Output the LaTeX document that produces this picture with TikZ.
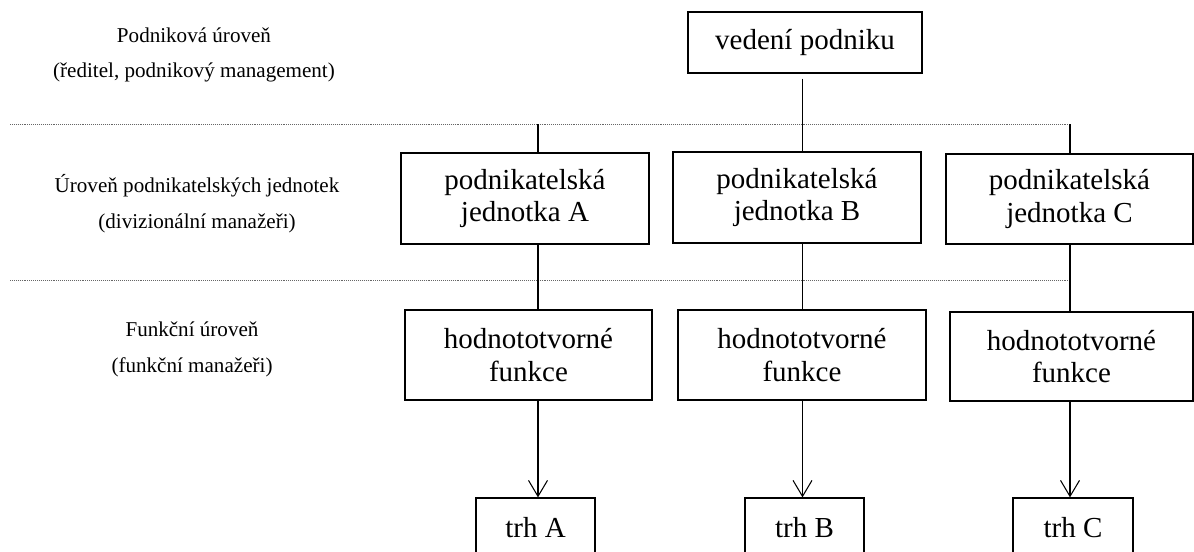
\documentclass[tikz,border=0pt]{standalone}
\usepackage{fontspec}
\setmainfont{Liberation Serif}
\usepackage{tikz}
\usetikzlibrary{arrows.meta,positioning}

\begin{document}
\begin{tikzpicture}[
  x=1cm, y=1cm, font=\fontsize{16.5}{18.7}\selectfont,
  box/.style={draw=black, line width=0.7pt, align=center, inner sep=2pt},
  level/.style={font=\fontsize{12}{20.4}\selectfont, align=center},
  link/.style={line width=0.6pt},
  sep/.style={line width=0.5pt, color=black!60, dash pattern=on 0.5pt off 0.6pt},
  arr/.style={-{Straight Barb[length=3.2mm, width=3.8mm]}, line width=0.6pt}
]
\useasboundingbox (0, 0) rectangle (23.88, -11.02);

% Columns of the three units
\coordinate (colA) at (10.76, 0);
\coordinate (colB) at (16.05, 0);
\coordinate (colC) at (21.40, 0);

% Level labels
\node[level] (lvlTop) at (3.88, -1.10) {Podniková úroveň\\(ředitel, podnikový management)};
\node[level] (lvlUnit) at (3.94, -4.07) {Úroveň podnikatelských jednotek\\(divizionální manažeři)};
\node[level] (lvlFunc) at (3.84, -6.98) {Funkční úroveň\\(funkční manažeři)};

% Top management
\node[box, minimum width=4.68cm, minimum height=1.22cm] (vedeni) at (16.10, -0.85) {vedení podniku};

% Business units
\node[box, minimum width=4.96cm, minimum height=1.82cm] (jednA) at (10.50, -3.97) {podnikatelská\\jednotka A};
\node[box, minimum width=4.96cm, minimum height=1.82cm] (jednB) at (15.94, -3.95) {podnikatelská\\jednotka B};
\node[box, minimum width=4.94cm, minimum height=1.80cm] (jednC) at (21.39, -3.98) {podnikatelská\\jednotka C};

% Value-creating functions
\node[box, minimum width=4.94cm, minimum height=1.80cm] (funkA) at (10.57, -7.10) {hodnototvorné\\funkce};
\node[box, minimum width=4.96cm, minimum height=1.80cm] (funkB) at (16.04, -7.10) {hodnototvorné\\funkce};
\node[box, minimum width=4.86cm, minimum height=1.78cm] (funkC) at (21.43, -7.13) {hodnototvorné\\funkce};

% Markets
\node[box, minimum width=2.38cm, minimum height=1.20cm] (trhA) at (10.71, -10.56) {trh A};
\node[box, minimum width=2.38cm, minimum height=1.20cm] (trhB) at (16.09, -10.56) {trh B};
\node[box, minimum width=2.40cm, minimum height=1.20cm] (trhC) at (21.46, -10.56) {trh C};

% Level separators
\coordinate (sepTop) at (0.20, -2.48);
\coordinate (sepUnit) at (0.20, -5.60);
\draw[sep] (sepTop) -- (sepTop -| colC);
\draw[sep] (sepUnit) -- (sepUnit -| colC);

% Connectors
\draw[link] ([yshift=-0.1cm]vedeni.south -| colB) -- (jednB.north -| colB);
\draw[link] (sepTop -| colA) -- (jednA.north -| colA);
\draw[link] (sepTop -| colC) -- (jednC.north -| colC);
\foreach \u in {A,B,C} {
  \draw[link] (jedn\u.south -| col\u) -- (funk\u.north -| col\u);
  \draw[arr] (funk\u.south -| col\u) -- (trh\u.north -| col\u);
}

\end{tikzpicture}
\end{document}
